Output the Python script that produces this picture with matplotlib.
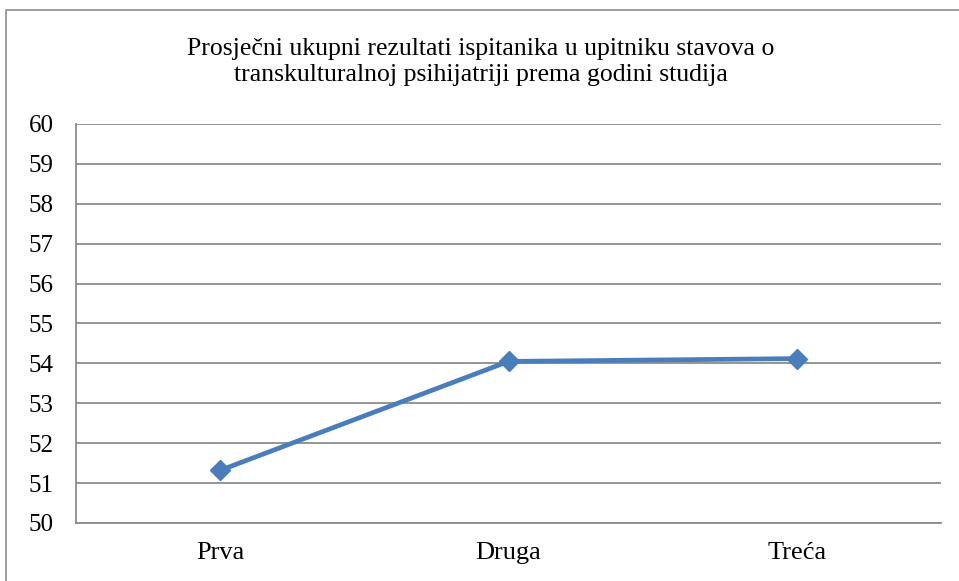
import matplotlib
matplotlib.use("Agg")
import matplotlib.pyplot as plt
from matplotlib.patches import Rectangle

categories = ["Prva", "Druga", "Treća"]
values = [51.32, 54.05, 54.12]
yticks = list(range(50, 61))
title = "Prosječni ukupni rezultati ispitanika u upitniku stavova o\ntranskulturalnoj psihijatriji prema godini studija"

plt.rcParams['font.family'] = ['Liberation Serif', 'DejaVu Serif']

fig = plt.figure(figsize=(9.59, 5.81), dpi=100)
fig.patches.append(Rectangle((6/959, -0.05), 1.2, 1.05 - 10/581, transform=fig.transFigure,
                             fill=False, edgecolor='#8c8c8c', linewidth=1.2))
ax = fig.add_axes([76/959, 1-523/581, (941-76)/959, (523-124)/581])
x = list(range(len(categories)))
ax.plot(x, values, color='#4a7ebb', linewidth=3.4, marker='D', markersize=10,
        markerfacecolor='#4a7ebb', markeredgecolor='#4a7ebb', zorder=3)
ax.set_xlim(-0.5, len(categories) - 0.5)
ax.set_ylim(50, 60)
ax.set_yticks(yticks)
ax.set_yticklabels([str(v) for v in yticks], fontsize=18)
ax.set_xticks(x)
ax.set_xticklabels(categories, fontsize=19)
ax.grid(axis='y', color='#8c8c8c', linewidth=1.3)
ax.set_axisbelow(True)
for s in ['top', 'right']:
    ax.spines[s].set_visible(False)
ax.spines['left'].set_color('#8c8c8c')
ax.spines['bottom'].set_color('#8c8c8c')
ax.spines['left'].set_linewidth(1.3)
ax.spines['bottom'].set_linewidth(1.3)
ax.tick_params(axis='y', length=0, pad=16)
ax.tick_params(axis='x', length=0, pad=14)
fig.text(481/959, 1-62/581, title, ha='center', va='center', fontsize=18.5, linespacing=1.28)
fig.savefig("out.png", dpi=100)
